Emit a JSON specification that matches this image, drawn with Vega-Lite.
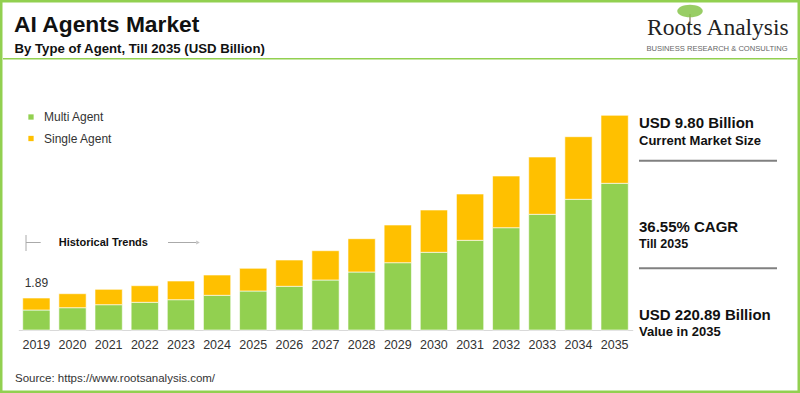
{
  "$schema": "https://vega.github.io/schema/vega-lite/v6.json",
  "width": 800,
  "height": 393,
  "padding": 0,
  "autosize": {"type": "none"},
  "background": "white",
  "config": {
    "view": {"stroke": "#92D050", "strokeWidth": 5},
    "font": "Liberation Sans",
    "text": {"font": "Liberation Sans"}
  },
  "data": {
    "values": [
      {"year": "2019", "type": "Multi Agent", "value": 20.0},
      {"year": "2019", "type": "Single Agent", "value": 12.0},
      {"year": "2020", "type": "Multi Agent", "value": 22.3},
      {"year": "2020", "type": "Single Agent", "value": 14.0},
      {"year": "2021", "type": "Multi Agent", "value": 25.3},
      {"year": "2021", "type": "Single Agent", "value": 15.4},
      {"year": "2022", "type": "Multi Agent", "value": 27.7},
      {"year": "2022", "type": "Single Agent", "value": 16.6},
      {"year": "2023", "type": "Multi Agent", "value": 30.3},
      {"year": "2023", "type": "Single Agent", "value": 18.7},
      {"year": "2024", "type": "Multi Agent", "value": 34.7},
      {"year": "2024", "type": "Single Agent", "value": 20.3},
      {"year": "2025", "type": "Multi Agent", "value": 39.0},
      {"year": "2025", "type": "Single Agent", "value": 22.7},
      {"year": "2026", "type": "Multi Agent", "value": 43.7},
      {"year": "2026", "type": "Single Agent", "value": 26.3},
      {"year": "2027", "type": "Multi Agent", "value": 50.0},
      {"year": "2027", "type": "Single Agent", "value": 29.3},
      {"year": "2028", "type": "Multi Agent", "value": 58.0},
      {"year": "2028", "type": "Single Agent", "value": 33.3},
      {"year": "2029", "type": "Multi Agent", "value": 67.3},
      {"year": "2029", "type": "Single Agent", "value": 37.7},
      {"year": "2030", "type": "Multi Agent", "value": 77.7},
      {"year": "2030", "type": "Single Agent", "value": 42.3},
      {"year": "2031", "type": "Multi Agent", "value": 89.7},
      {"year": "2031", "type": "Single Agent", "value": 46.3},
      {"year": "2032", "type": "Multi Agent", "value": 102.3},
      {"year": "2032", "type": "Single Agent", "value": 51.7},
      {"year": "2033", "type": "Multi Agent", "value": 115.7},
      {"year": "2033", "type": "Single Agent", "value": 57.3},
      {"year": "2034", "type": "Multi Agent", "value": 130.7},
      {"year": "2034", "type": "Single Agent", "value": 62.6},
      {"year": "2035", "type": "Multi Agent", "value": 146.7},
      {"year": "2035", "type": "Single Agent", "value": 68.0}
    ]
  },
  "layer": [
    {
      "mark": {"type": "bar", "stroke": "white", "strokeWidth": 0.6},
      "encoding": {
        "x": {
          "field": "year", "type": "ordinal",
          "scale": {"range": [18.3, 632.7], "paddingInner": 0.245, "paddingOuter": 0.1225},
          "axis": {
            "title": null, "orient": "bottom", "offset": -63, "ticks": false,
            "domainColor": "#d9d9d9", "domainWidth": 1, "labelAngle": 0,
            "labelFont": "Liberation Sans", "labelFontSize": 12.5, "labelColor": "#333333",
            "labelPadding": 8
          }
        },
        "y": {
          "field": "value", "type": "quantitative", "stack": "zero",
          "scale": {"domain": [-63, 330], "zero": false, "nice": false},
          "axis": null
        },
        "color": {
          "field": "type", "type": "nominal",
          "scale": {"domain": ["Multi Agent", "Single Agent"], "range": ["#92D050", "#FFC000"]},
          "legend": {
            "title": null, "orient": "none", "legendX": 25, "legendY": 111,
            "symbolType": "square", "symbolSize": 28, "symbolStrokeWidth": 0,
            "labelFont": "Liberation Sans", "labelFontSize": 12, "labelColor": "#333333",
            "labelOffset": 7, "rowPadding": 9.5, "padding": 0
          }
        },
        "order": {"field": "type", "sort": "ascending"}
      }
    },
    {
      "data": {"values": [{"year": "2019", "total": 32, "label": "1.89"}]},
      "mark": {"type": "text", "fontSize": 12, "color": "#333333", "dy": -11.3, "baseline": "alphabetic"},
      "encoding": {
        "x": {"field": "year", "type": "ordinal"},
        "y": {"field": "total", "type": "quantitative"},
        "text": {"field": "label"}
      }
    },
    {
      "data": {"values": [{}]},
      "mark": {"type": "text", "text": "AI Agents Market", "x": 14, "y": 32, "align": "left", "baseline": "alphabetic", "fontSize": 22.8, "fontWeight": "bold", "color": "#111111"}
    },
    {
      "data": {"values": [{}]},
      "mark": {"type": "text", "text": "By Type of Agent, Till 2035 (USD Billion)", "x": 14.5, "y": 52.7, "align": "left", "baseline": "alphabetic", "fontSize": 13.2, "fontWeight": "bold", "color": "#111111"}
    },
    {
      "data": {"values": [{}]},
      "mark": {"type": "rule", "color": "#92D050", "strokeWidth": 1.5},
      "encoding": {"x": {"value": 3}, "x2": {"value": 797}, "y": {"value": 58.7}}
    },
    {
      "data": {"values": [{}]},
      "mark": {"type": "rule", "color": "#8a7a5a", "strokeWidth": 2, "opacity": 0.6},
      "encoding": {"x": {"value": 690}, "y": {"value": 14}, "y2": {"value": 24}}
    },
    {
      "data": {"values": [{}]},
      "mark": {"type": "point", "shape": "M-1,0A1,0.5 0 1,0 1,0A1,0.5 0 1,0 -1,0Z", "filled": true, "size": 650, "color": "#86c44a", "opacity": 0.85},
      "encoding": {"x": {"value": 690}, "y": {"value": 11}}
    },
    {
      "data": {"values": [{}]},
      "mark": {"type": "text", "text": "Roots Analysis", "x": 647, "y": 35, "align": "left", "baseline": "alphabetic", "fontSize": 23.5, "font": "Liberation Serif", "color": "#222222"}
    },
    {
      "data": {"values": [{}]},
      "mark": {"type": "text", "text": "BUSINESS RESEARCH & CONSULTING", "x": 717, "y": 50.5, "align": "center", "baseline": "alphabetic", "fontSize": 7.6, "color": "#666666"}
    },
    {
      "data": {"values": [{}]},
      "mark": {"type": "rule", "color": "#aaaaaa", "strokeWidth": 1},
      "encoding": {"x": {"value": 26}, "y": {"value": 235}, "y2": {"value": 251}}
    },
    {
      "data": {"values": [{}]},
      "mark": {"type": "rule", "color": "#aaaaaa", "strokeWidth": 1},
      "encoding": {"x": {"value": 26}, "x2": {"value": 40.7}, "y": {"value": 242.5}}
    },
    {
      "data": {"values": [{}]},
      "mark": {"type": "rule", "color": "#aaaaaa", "strokeWidth": 1},
      "encoding": {"x": {"value": 168}, "x2": {"value": 196}, "y": {"value": 242.5}}
    },
    {
      "data": {"values": [{}]},
      "mark": {"type": "point", "shape": "triangle-right", "filled": true, "size": 18, "color": "#aaaaaa"},
      "encoding": {"x": {"value": 198}, "y": {"value": 242.5}}
    },
    {
      "data": {"values": [{}]},
      "mark": {"type": "text", "text": "Historical Trends", "x": 58.7, "y": 246.3, "align": "left", "baseline": "alphabetic", "fontSize": 11, "fontWeight": "bold", "color": "#111111"}
    },
    {
      "data": {"values": [{}]},
      "mark": {"type": "text", "text": "USD 9.80 Billion", "x": 639, "y": 128.3, "align": "left", "baseline": "alphabetic", "fontSize": 15, "fontWeight": "bold", "color": "#111111"}
    },
    {
      "data": {"values": [{}]},
      "mark": {"type": "text", "text": "Current Market Size", "x": 639, "y": 144.7, "align": "left", "baseline": "alphabetic", "fontSize": 13, "fontWeight": "bold", "color": "#111111"}
    },
    {
      "data": {"values": [{}]},
      "mark": {"type": "rule", "color": "#808080", "strokeWidth": 2},
      "encoding": {"x": {"value": 639}, "x2": {"value": 777}, "y": {"value": 160.7}}
    },
    {
      "data": {"values": [{}]},
      "mark": {"type": "text", "text": "36.55% CAGR", "x": 639, "y": 231.7, "align": "left", "baseline": "alphabetic", "fontSize": 15, "fontWeight": "bold", "color": "#111111"}
    },
    {
      "data": {"values": [{}]},
      "mark": {"type": "text", "text": "Till 2035", "x": 639, "y": 247.7, "align": "left", "baseline": "alphabetic", "fontSize": 12.5, "fontWeight": "bold", "color": "#111111"}
    },
    {
      "data": {"values": [{}]},
      "mark": {"type": "rule", "color": "#808080", "strokeWidth": 2},
      "encoding": {"x": {"value": 639}, "x2": {"value": 777}, "y": {"value": 268.3}}
    },
    {
      "data": {"values": [{}]},
      "mark": {"type": "text", "text": "USD 220.89 Billion", "x": 639, "y": 320, "align": "left", "baseline": "alphabetic", "fontSize": 15, "fontWeight": "bold", "color": "#111111"}
    },
    {
      "data": {"values": [{}]},
      "mark": {"type": "text", "text": "Value in 2035", "x": 639, "y": 335.5, "align": "left", "baseline": "alphabetic", "fontSize": 13, "fontWeight": "bold", "color": "#111111"}
    },
    {
      "data": {"values": [{}]},
      "mark": {"type": "text", "text": "Source: https://www.rootsanalysis.com/", "x": 15, "y": 382.3, "align": "left", "baseline": "alphabetic", "fontSize": 11.5, "color": "#333333"}
    }
  ]
}
